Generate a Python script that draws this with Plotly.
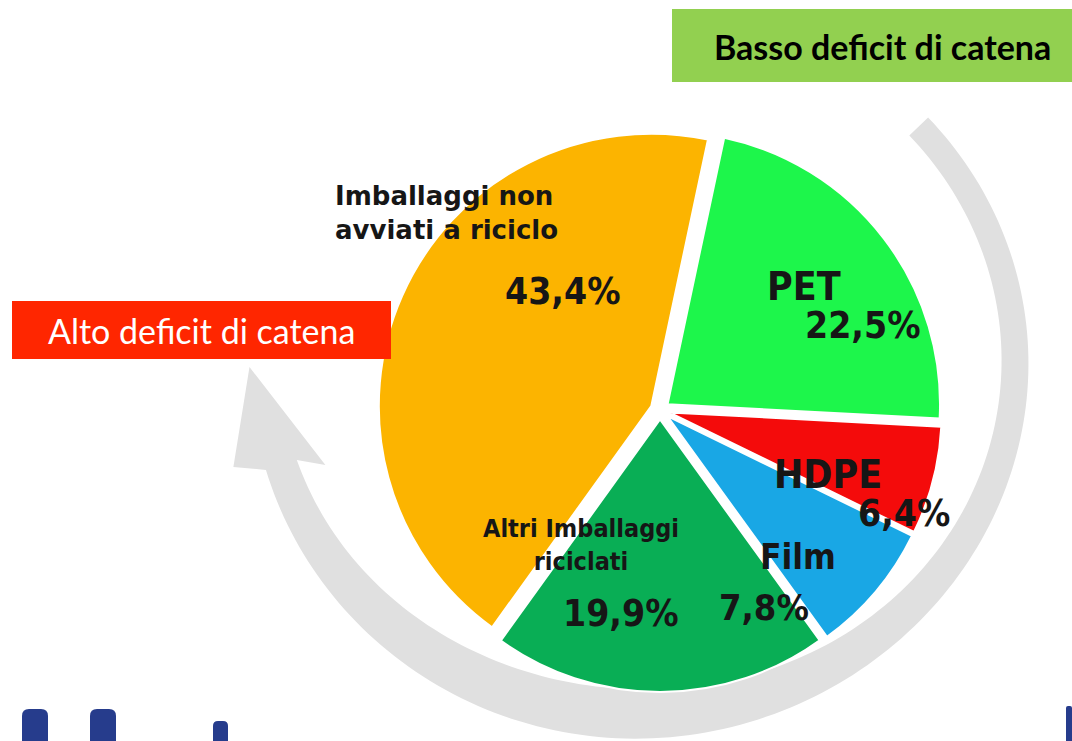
import numpy as np
import plotly.graph_objects as go

W, H = 1072, 741

# ---------------- data ----------------
categories = ["PET", "HDPE", "Film", "Altri Imballaggi riciclati", "Imballaggi non avviati a riciclo"]
shares = [22.5, 6.4, 7.8, 19.9, 43.4]
share_labels = ["22,5%", "6,4%", "7,8%", "19,9%", "43,4%"]
slice_colors = ["#1DF64B", "#F40B0B", "#19A7E5", "#09AE55", "#FCB400"]
badge_texts = ["Basso deficit di catena", "Alto deficit di catena"]


def px(x):
    return x / W


def py(y):
    return 1 - y / H


fig = go.Figure()

fig.add_trace(go.Pie(
    labels=categories, values=shares, sort=False, direction="clockwise", rotation=12,
    marker=dict(colors=slice_colors, line=dict(color="white", width=2)),
    pull=[0.035] * len(shares), textinfo="none", showlegend=False,
    hovertemplate="%{label}: %{value}%<extra></extra>",
    domain=dict(x=[px(378), px(942)], y=[py(692), py(128)]),
))

shapes = []

# ---------------- grey circular arrow (decoration) ----------------
cx, cy, rx, ry = 640.0, 362.0, 375.0, 352.0
th = np.radians(np.linspace(48, 253, 160))
deg = np.degrees(th)
wband = 26 + 24 * np.exp(-((deg - 190) / 55) ** 2)
Px = cx + rx * np.sin(th)
Py = cy - ry * np.cos(th)
Nx = ry * np.sin(th)
Ny = -rx * np.cos(th)
nn = np.hypot(Nx, Ny)
Nx, Ny = Nx / nn, Ny / nn
outer = list(zip(Px + Nx * wband / 2, Py + Ny * wband / 2))
inner = list(zip(Px - Nx * wband / 2, Py - Ny * wband / 2))
Tx = rx * np.cos(th[-1])
Ty = ry * np.sin(th[-1])
tn = np.hypot(Tx, Ty)
Tx, Ty = Tx / tn, Ty / tn
Ex, Ey = Px[-1], Py[-1]
head = [(Ex - 48, Ey + 2), (Ex + 103 * Tx, Ey + 103 * Ty), (Ex + 44, Ey)]
pts = outer + head + inner[::-1]
path = "M " + " L ".join(f"{px(a):.5f},{py(b):.5f}" for a, b in pts) + " Z"
shapes.append(dict(type="path", path=path, xref="paper", yref="paper",
                   fillcolor="#E0E0E0", line=dict(width=0), layer="below"))

# ---------------- badges ----------------
shapes.append(dict(type="rect", xref="paper", yref="paper", x0=px(672), x1=px(1072),
                   y0=py(82), y1=py(9), fillcolor="#92D050", line=dict(width=0), layer="above"))
shapes.append(dict(type="rect", xref="paper", yref="paper", x0=px(12), x1=px(391),
                   y0=py(359), y1=py(301), fillcolor="#FF2600", line=dict(width=0), layer="above"))


# ---------------- cropped logo fragments at bottom ----------------
def rounded_top(x0, y0, x1, y1, r):
    p = [f"M {px(x0)},{py(y1)}", f"L {px(x0)},{py(y0 + r)}",
         f"Q {px(x0)},{py(y0)} {px(x0 + r)},{py(y0)}", f"L {px(x1 - r)},{py(y0)}",
         f"Q {px(x1)},{py(y0)} {px(x1)},{py(y0 + r)}", f"L {px(x1)},{py(y1)} Z"]
    return " ".join(p)


for (a, b, c, d, r) in [(22, 709, 48, 741, 7), (90, 709, 116, 741, 7),
                         (213, 721, 228, 741, 5), (1066, 706, 1072, 741, 2)]:
    shapes.append(dict(type="path", path=rounded_top(a, b, c, d, r), xref="paper", yref="paper",
                       fillcolor="#263C8C", line=dict(width=0), layer="above"))

annotations = []


def ann(text, x, y, size, family, color="#161616", xanchor="center", align="center"):
    annotations.append(dict(text=text, x=px(x), y=py(y), xref="paper", yref="paper",
                            xanchor=xanchor, yanchor="middle", align=align, showarrow=False,
                            font=dict(size=size, family=family, color=color)))


COND = "DejaVu Sans Condensed, DejaVu Sans, sans-serif"
ann(f"<b>{badge_texts[0]}</b>", 882, 46, 34, "Lato, sans-serif", color="#000000")
ann(badge_texts[1], 201, 330, 34, "Lato, sans-serif", color="#FFFFFF")

ann(f"<b>{categories[0]}</b>", 804, 286, 39, COND)
ann(f"<b>{share_labels[0]}</b>", 862, 326, 37, COND)
ann(f"<b>{categories[1]}</b>", 828, 474, 39, COND)
ann(f"<b>{share_labels[1]}</b>", 904, 513, 37, COND)
ann(f"<b>{categories[2]}</b>", 798, 557, 35, COND)
ann(f"<b>{share_labels[2]}</b>", 764, 607, 36, COND)
ann("<b>Altri Imballaggi<br>riciclati</b>", 581, 545, 25, COND)
ann(f"<b>{share_labels[3]}</b>", 620, 613, 37, COND)
ann("<b>Imballaggi non<br>avviati a riciclo</b>", 333, 213, 26, "DejaVu Sans, sans-serif",
    xanchor="left", align="left")
ann(f"<b>{share_labels[4]}</b>", 562, 292, 37, COND)

fig.update_layout(
    width=W, height=H, autosize=False,
    margin=dict(l=0, r=0, t=0, b=0, pad=0),
    paper_bgcolor="white", plot_bgcolor="white",
    shapes=shapes, annotations=annotations, showlegend=False,
)

fig.write_html("out.html", config={"displayModeBar": False},
               post_script="document.body.style.margin='0';document.body.style.overflow='hidden';")
